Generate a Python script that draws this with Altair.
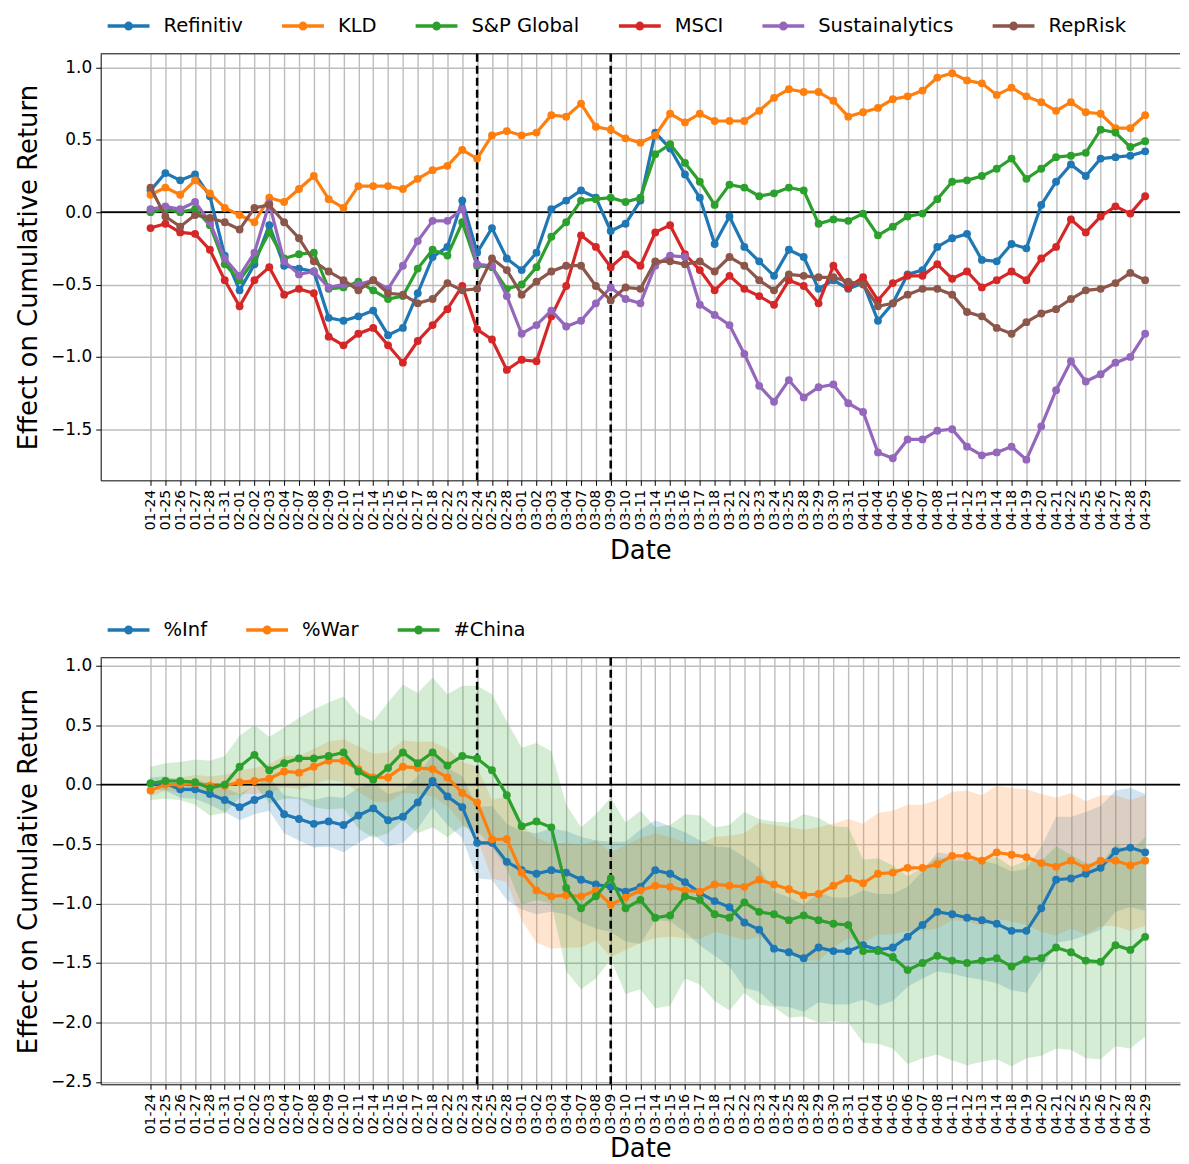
import altair as alt
import pandas as pd

dates = ["01-24", "01-25", "01-26", "01-27", "01-28", "01-31",
         "02-01", "02-02", "02-03", "02-04", "02-07", "02-08", "02-09", "02-10", "02-11",
         "02-14", "02-15", "02-16", "02-17", "02-18", "02-22", "02-23", "02-24", "02-25", "02-28",
         "03-01", "03-02", "03-03", "03-04", "03-07", "03-08", "03-09", "03-10", "03-11",
         "03-14", "03-15", "03-16", "03-17", "03-18", "03-21", "03-22", "03-23", "03-24", "03-25",
         "03-28", "03-29", "03-30", "03-31",
         "04-01", "04-04", "04-05", "04-06", "04-07", "04-08", "04-11", "04-12", "04-13", "04-14",
         "04-18", "04-19", "04-20", "04-21", "04-22", "04-25", "04-26", "04-27", "04-28", "04-29"]

# ---- top panel series ----
top_names = ["Refinitiv", "KLD", "S&P Global", "MSCI", "Sustainalytics", "RepRisk"]
top_colors = ["#1f77b4", "#ff7f0e", "#2ca02c", "#d62728", "#9467bd", "#8c564b"]

refinitiv = [0.15, 0.27, 0.22, 0.26, 0.11, -0.30, -0.54, -0.36, -0.09, -0.37, -0.39, -0.41, -0.73, -0.75,
             -0.72, -0.68, -0.85, -0.80, -0.56, -0.31, -0.24, 0.08, -0.28,
             -0.11, -0.32, -0.40, -0.28, 0.02, 0.08, 0.15, 0.10, -0.13, -0.08, 0.08, 0.55, 0.44, 0.26,
             0.10, -0.22, -0.03, -0.24, -0.34, -0.44, -0.26, -0.31, -0.53,
             -0.47, -0.53, -0.49, -0.75, -0.63, -0.43, -0.40, -0.24, -0.18, -0.15, -0.33, -0.34,
             -0.22, -0.25, 0.05, 0.21, 0.33, 0.25, 0.37, 0.38, 0.39, 0.42]
kld = [0.12, 0.17, 0.12, 0.22, 0.13, 0.03, -0.02, -0.07, 0.10, 0.07, 0.16, 0.25, 0.09, 0.03, 0.18, 0.18,
       0.18, 0.16, 0.23, 0.29, 0.32, 0.43, 0.37,
       0.53, 0.56, 0.53, 0.55, 0.67, 0.66, 0.75, 0.59, 0.57, 0.51, 0.48, 0.53, 0.68, 0.62, 0.68, 0.63,
       0.63, 0.63, 0.70, 0.79, 0.85, 0.83, 0.83,
       0.77, 0.66, 0.69, 0.72, 0.78, 0.80, 0.84, 0.93, 0.96, 0.91, 0.89, 0.81, 0.86, 0.80, 0.76,
       0.70, 0.76, 0.69, 0.68, 0.58, 0.58, 0.67]
spg = [0.0, 0.02, 0.0, 0.02, -0.09, -0.36, -0.47, -0.33, -0.14, -0.32, -0.29, -0.28, -0.53, -0.52,
       -0.48, -0.54, -0.60, -0.58, -0.39, -0.26, -0.30, -0.07, -0.37,
       -0.38, -0.53, -0.50, -0.38, -0.17, -0.07, 0.08, 0.09, 0.10, 0.07, 0.10, 0.40, 0.47, 0.34, 0.21,
       0.05, 0.19, 0.17, 0.11, 0.13, 0.17, 0.15, -0.08,
       -0.05, -0.06, -0.01, -0.16, -0.10, -0.03, -0.01, 0.09, 0.21, 0.22, 0.25, 0.30, 0.37, 0.23,
       0.30, 0.38, 0.39, 0.41, 0.57, 0.55, 0.45, 0.49]
msci = [-0.11, -0.08, -0.14, -0.15, -0.26, -0.47, -0.65, -0.47, -0.38, -0.57, -0.53, -0.56, -0.86,
        -0.92, -0.84, -0.80, -0.92, -1.04, -0.89, -0.78, -0.67, -0.51, -0.81,
        -0.88, -1.09, -1.02, -1.03, -0.72, -0.51, -0.16, -0.24, -0.38, -0.29, -0.37, -0.14, -0.09,
        -0.29, -0.40, -0.54, -0.44, -0.53, -0.58, -0.64, -0.47, -0.51, -0.63,
        -0.37, -0.52, -0.45, -0.61, -0.49, -0.44, -0.44, -0.36, -0.46, -0.41, -0.52, -0.47, -0.41,
        -0.47, -0.32, -0.24, -0.05, -0.14, -0.03, 0.04, -0.01, 0.11]
sustainalytics = [0.02, 0.04, 0.02, 0.07, -0.07, -0.32, -0.44, -0.28, 0.06, -0.34, -0.43, -0.41, -0.52,
                  -0.50, -0.50, -0.47, -0.53, -0.37, -0.20, -0.06, -0.06, 0.02, -0.36,
                  -0.37, -0.58, -0.84, -0.78, -0.68, -0.79, -0.75, -0.63, -0.52, -0.60, -0.63, -0.37,
                  -0.30, -0.31, -0.64, -0.71, -0.78, -0.98, -1.20, -1.31, -1.16, -1.28, -1.21,
                  -1.19, -1.32, -1.38, -1.66, -1.70, -1.57, -1.57, -1.51, -1.50, -1.62, -1.68, -1.66,
                  -1.62, -1.71, -1.48, -1.23, -1.03, -1.17, -1.12, -1.04, -1.00, -0.84]
reprisk = [0.17, -0.03, -0.10, -0.02, -0.04, -0.07, -0.12, 0.03, 0.05, -0.07, -0.18, -0.34, -0.41,
           -0.47, -0.54, -0.47, -0.56, -0.57, -0.63, -0.60, -0.49, -0.54, -0.53,
           -0.32, -0.40, -0.57, -0.48, -0.41, -0.37, -0.37, -0.51, -0.61, -0.52, -0.53, -0.34, -0.34,
           -0.36, -0.34, -0.41, -0.31, -0.37, -0.47, -0.54, -0.43, -0.44, -0.45,
           -0.45, -0.48, -0.50, -0.65, -0.63, -0.57, -0.53, -0.53, -0.57, -0.69, -0.72, -0.80, -0.84,
           -0.76, -0.70, -0.67, -0.60, -0.54, -0.53, -0.49, -0.42, -0.47]

# ---- bottom panel series ----
bot_names = ["%Inf", "%War", "#China"]
bot_colors = ["#1f77b4", "#ff7f0e", "#2ca02c"]

inf = [0.01, 0.01, -0.04, -0.04, -0.08, -0.13, -0.19, -0.13, -0.08, -0.25, -0.29, -0.33, -0.31, -0.34,
       -0.26, -0.20, -0.30, -0.27, -0.15, 0.03, -0.10, -0.19, -0.49,
       -0.49, -0.65, -0.72, -0.75, -0.72, -0.74, -0.80, -0.84, -0.86, -0.90, -0.86, -0.72, -0.75,
       -0.82, -0.91, -0.98, -1.03, -1.16, -1.22, -1.38, -1.41, -1.46, -1.37,
       -1.40, -1.40, -1.35, -1.39, -1.37, -1.28, -1.18, -1.07, -1.09, -1.12, -1.14, -1.17, -1.23,
       -1.23, -1.04, -0.80, -0.79, -0.75, -0.70, -0.56, -0.53, -0.57]
war = [-0.05, 0.0, 0.0, 0.01, -0.01, -0.01, 0.02, 0.03, 0.05, 0.11, 0.10, 0.15, 0.20, 0.20, 0.13, 0.06,
       0.06, 0.15, 0.14, 0.13, 0.06, -0.07, -0.15,
       -0.46, -0.46, -0.74, -0.89, -0.94, -0.93, -0.94, -0.89, -1.01, -0.95, -0.89, -0.85, -0.86,
       -0.89, -0.90, -0.84, -0.85, -0.86, -0.80, -0.84, -0.88, -0.93, -0.92,
       -0.85, -0.79, -0.83, -0.75, -0.74, -0.70, -0.70, -0.67, -0.60, -0.60, -0.64, -0.57, -0.59,
       -0.61, -0.66, -0.69, -0.64, -0.70, -0.64, -0.64, -0.68, -0.64]
china = [0.01, 0.03, 0.03, 0.02, -0.03, 0.0, 0.15, 0.25, 0.12, 0.18, 0.22, 0.22, 0.24, 0.27, 0.11,
         0.04, 0.14, 0.27, 0.18, 0.27, 0.16, 0.24, 0.22,
         0.12, -0.09, -0.35, -0.31, -0.36, -0.87, -1.04, -0.94, -0.79, -1.04, -0.97, -1.12, -1.10,
         -0.94, -0.97, -1.09, -1.12, -0.99, -1.07, -1.09, -1.14, -1.10, -1.14,
         -1.17, -1.18, -1.40, -1.40, -1.45, -1.56, -1.50, -1.44, -1.48, -1.50, -1.48, -1.46, -1.53,
         -1.47, -1.46, -1.37, -1.41, -1.48, -1.49, -1.35, -1.39, -1.28]
# confidence band half-widths
inf_hw = [0.05, 0.06, 0.07, 0.08, 0.09, 0.10, 0.11, 0.12, 0.14, 0.16, 0.18,
          0.20, 0.21, 0.23, 0.23, 0.22, 0.22, 0.22, 0.22, 0.22, 0.24, 0.26,
          0.30, 0.31, 0.32, 0.33, 0.34, 0.35, 0.35, 0.36, 0.37,
          0.38, 0.42, 0.48, 0.42, 0.40, 0.42, 0.44, 0.46, 0.50,
          0.55, 0.52, 0.48, 0.46, 0.45, 0.46, 0.45, 0.45, 0.46, 0.47,
          0.45, 0.42, 0.45, 0.50, 0.50, 0.50, 0.50, 0.50, 0.50, 0.52,
          0.52, 0.53, 0.52, 0.52, 0.52, 0.51, 0.50, 0.49]
war_hw = [0.05, 0.05, 0.06, 0.07, 0.08, 0.09, 0.10, 0.11, 0.12, 0.13, 0.14,
          0.15, 0.16, 0.18, 0.19, 0.20, 0.21, 0.22, 0.22, 0.23, 0.24, 0.26,
          0.30, 0.33, 0.36, 0.40, 0.44, 0.44, 0.44, 0.43, 0.42,
          0.44, 0.44, 0.44, 0.44, 0.42, 0.40, 0.40, 0.40, 0.42, 0.45, 0.48, 0.50, 0.52, 0.55,
          0.56, 0.52, 0.50, 0.50, 0.51, 0.52, 0.53, 0.53, 0.54, 0.54, 0.55, 0.55, 0.56, 0.56, 0.57,
          0.58, 0.58, 0.57, 0.56, 0.55, 0.55, 0.55, 0.55]
china_hw = [0.14, 0.15, 0.16, 0.19, 0.23, 0.24, 0.26, 0.25, 0.28, 0.30, 0.34, 0.41, 0.45, 0.47, 0.48,
            0.49, 0.55, 0.57, 0.59, 0.63, 0.60, 0.59, 0.61,
            0.64, 0.62, 0.66, 0.66, 0.64, 0.70, 0.68, 0.69, 0.68, 0.72, 0.75, 0.76, 0.76, 0.69, 0.71,
            0.73, 0.78, 0.76, 0.78, 0.78, 0.82, 0.85, 0.86,
            0.82, 0.82, 0.77, 0.78, 0.77, 0.79, 0.80, 0.83, 0.84, 0.86, 0.85, 0.85, 0.84, 0.83, 0.82,
            0.85, 0.82, 0.82, 0.82, 0.85, 0.83, 0.84]

event_idx = [dates.index("02-24"), dates.index("03-09")]

# ---- data frames ----
top_rows = []
for name, vals in zip(top_names, [refinitiv, kld, spg, msci, sustainalytics, reprisk]):
    for i, v in enumerate(vals):
        top_rows.append({"idx": i, "series": name, "value": v})
top_df = pd.DataFrame(top_rows)

bot_rows = []
for name, vals, hw in zip(bot_names, [inf, war, china], [inf_hw, war_hw, china_hw]):
    for i, v in enumerate(vals):
        bot_rows.append({"idx": i, "series": name, "value": v, "lo": v - hw[i], "hi": v + hw[i]})
bot_df = pd.DataFrame(bot_rows)

zero_df = pd.DataFrame({"value": [0.0]})
event_df = pd.DataFrame({"idx": event_idx})

# ---- styling ----
W, H = 1083, 428
X_MIN = -3.357
X_MAX = X_MIN + W / 14.896
label_expr = "[" + ",".join("'%s'" % d for d in dates) + "][datum.value]"
# legend glyph: a line with a dot in its middle (symbolSize 400 -> 10 px per unit)
SYM = "M-2.1,0L2.1,0M-0.27,0A0.27,0.27,0,1,1,0.27,0A0.27,0.27,0,1,1,-0.27,0Z"


def x_enc(title_pad):
    return alt.X("idx:Q",
                 scale=alt.Scale(domain=[X_MIN, X_MAX], nice=False, zero=False),
                 axis=alt.Axis(values=list(range(len(dates))), labelExpr=label_expr,
                               labelAngle=270, labelFontSize=14, labelOverlap=False,
                               labelFlush=False, tickSize=5, labelPadding=4,
                               title="Date", titleFontSize=26, titlePadding=title_pad))


def y_enc(domain, ticks, field="value"):
    return alt.Y(f"{field}:Q",
                 scale=alt.Scale(domain=domain, nice=False, zero=False),
                 axis=alt.Axis(values=ticks, format=".1f", labelFontSize=17, labelFlush=False,
                               tickSize=5, labelPadding=4, title="Effect on Cumulative Return",
                               titleFontSize=26, titlePadding=9))


def legend():
    return alt.Legend(title=None, orient="none", legendX=16, legendY=-40, direction="horizontal",
                      symbolType=SYM, symbolSize=400, symbolStrokeWidth=3.5, labelFontSize=19.6,
                      labelOffset=23, columnPadding=32, labelColor="black", labelFont="DejaVu Sans")


def panel(df, names, colors, domain, ticks, title_pad, bands=False):
    X = x_enc(title_pad)
    Y = y_enc(domain, ticks)
    cscale = alt.Scale(domain=names, range=colors)
    layers = []
    if bands:
        for name, col in zip(names, colors):
            layers.append(
                alt.Chart(df).transform_filter(alt.datum.series == name)
                .mark_area(opacity=0.2, color=col)
                .encode(x=X, y=y_enc(domain, ticks, "lo"), y2="hi:Q")
            )
    layers.append(alt.Chart(zero_df).mark_rule(color="black", strokeWidth=1.8).encode(y=Y))
    layers.append(alt.Chart(event_df).mark_rule(color="black", strokeWidth=2.5, strokeDash=[8, 4])
                  .encode(x=X))
    for name, col in zip(names, colors):
        base = alt.Chart(df).transform_filter(alt.datum.series == name)
        layers.append(base.mark_line(strokeWidth=3.2)
                      .encode(x=X, y=Y, color=alt.Color("series:N", scale=cscale, legend=legend())))
        layers.append(base.mark_circle(size=62, opacity=1, color=col).encode(x=X, y=Y))
    layers.append(alt.Chart(zero_df).mark_rule(color="black", strokeWidth=1).encode(y=alt.value(0)))
    return alt.layer(*layers).properties(width=W, height=H)


top = panel(top_df, top_names, top_colors, [-1.853, 1.094], [-1.5, -1.0, -0.5, 0.0, 0.5, 1.0], 8)
bottom = panel(bot_df, bot_names, bot_colors, [-2.52, 1.066],
               [-2.5, -2.0, -1.5, -1.0, -0.5, 0.0, 0.5, 1.0], 2, bands=True)

chart = (
    alt.vconcat(top, bottom, spacing=54)
    .resolve_scale(color="independent")
    .resolve_legend(color="independent")
    .properties(padding={"left": 7, "top": 4, "right": 0, "bottom": 0})
    .configure(font="DejaVu Sans")
    .configure_view(stroke=None)
    .configure_axis(gridColor="#bdbdbd", gridWidth=1.4, domainColor="black", domainWidth=1,
                    tickColor="black", labelColor="black", titleColor="black",
                    titleFontWeight="normal", labelFont="DejaVu Sans", titleFont="DejaVu Sans")
)

chart.save("out.html", embed_options={"renderer": "svg", "actions": False})
